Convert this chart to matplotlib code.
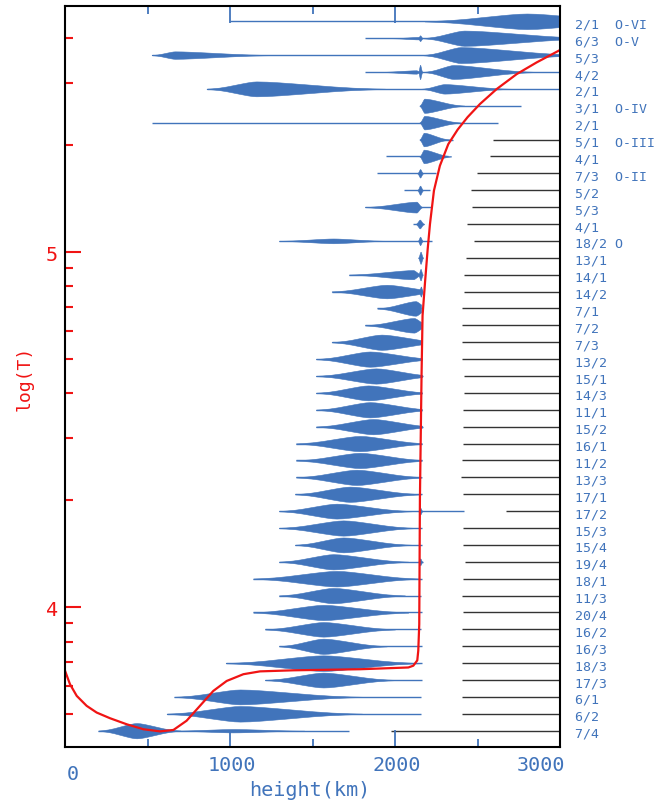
import numpy as np
import matplotlib
matplotlib.use("Agg")
import matplotlib.pyplot as plt

plt.rcParams['font.family'] = ['DejaVu Sans Mono']

BLUE = '#4174bb'
RED = '#f01414'

# line labels, top row first
trans = ['2/1', '6/3', '5/3', '4/2', '2/1', '3/1', '2/1', '5/1', '4/1', '7/3',
         '5/2', '5/3', '4/1', '18/2', '13/1', '14/1', '14/2', '7/1', '7/2', '7/3',
         '13/2', '15/1', '14/3', '11/1', '15/2', '16/1', '11/2', '13/3', '17/1', '17/2',
         '15/3', '15/4', '19/4', '18/1', '11/3', '20/4', '16/2', '16/3', '18/3', '17/3',
         '6/1', '6/2', '7/4']
ions = ['O-VI', 'O-V', '', '', '', 'O-IV', '', 'O-III', '', 'O-II',
        '', '', '', 'O', '', '', '', '', '', '',
        '', '', '', '', '', '', '', '', '', '',
        '', '', '', '', '', '', '', '', '', '',
        '', '', '']

# thin line under each contribution function (km)
wing_start = [1000, 1818, 525, 1818, 858, 2150, 525, 2150, 1945, 1893,
              2054, 1818, 2111, 1297, 2145, 1721, 1616, 1893, 1818, 1616,
              1521, 1521, 1521, 1521, 1521, 1400, 1400, 1400, 1394, 1297,
              1297, 1394, 1297, 1141, 1297, 1141, 1212, 1297, 974, 1212,
              663, 616, 202]
wing_end = [3000, 3000, 3000, 3000, 3000, 2763, 2626, 2353, 2323, 2246,
            2212, 2226, 2177, 2226, 2165, 2165, 2165, 2158, 2158, 2162,
            2162, 2168, 2165, 2165, 2168, 2165, 2162, 2160, 2165, 2420,
            2165, 2165, 2170, 2165, 2160, 2165, 2160, 2162, 2165, 2162,
            2155, 2155, 1723]

# black reference lines on the right (rows 7..42)
black_rows = list(range(7, 43))
black_start = [2596, 2575, 2495, 2460, 2466, 2434, 2481, 2430, 2420, 2420,
               2408, 2408, 2404, 2404, 2416, 2416, 2410, 2410, 2410, 2408,
               2400, 2410, 2670, 2410, 2410, 2424, 2410, 2406, 2410, 2408,
               2408, 2408, 2408, 2406, 2406, 1976]

# blobs: row, left tip, peak, right tip, half height (rows), cut-off (km)
blob_row = [0, 1, 1, 1, 2, 2, 3, 3, 3, 4, 4, 5, 6, 7, 8, 9, 10, 11, 12, 13, 13,
            14, 15, 15, 16, 16, 17, 18, 19, 20, 21, 22, 23, 24, 25, 26, 27, 28,
            29, 29, 30, 31, 32, 32, 33, 34, 35, 36, 37, 38, 39, 40, 41, 42, 42]
blob_left = [2180, 1980, 2138, 2170, 525, 2170, 1900, 2140, 2175, 858, 2160, 2148, 2148,
             2148, 2148, 2135, 2135, 1818, 2125, 1297, 2138,
             2140, 1721, 2140, 1616, 2145, 1893, 1818, 1616, 1521, 1521, 1521, 1521, 1521,
             1400, 1400, 1400, 1394, 1297, 2140, 1297, 1394, 1297, 2140, 1141, 1297, 1141,
             1212, 1297, 974, 1212, 663, 616, 202, 650]
blob_peak = [2800, 2140, 2152, 2420, 667, 2400, 2130, 2152, 2355, 1160, 2300, 2178, 2178,
             2175, 2175, 2152, 2152, 2130, 2150, 1626, 2152,
             2155, 2110, 2155, 1950, 2157, 2125, 2115, 1919, 1848, 1885, 1838, 1848, 1868,
             1788, 1788, 1767, 1727, 1646, 2153, 1687, 1687, 1626, 2153, 1646, 1626, 1566,
             1566, 1566, 1566, 1566, 1061, 1061, 434, 1020]
blob_right = [3500, 2160, 2168, 3220, 1260, 3150, 2150, 2165, 2850, 1940, 2700, 2420, 2400,
              2330, 2340, 2170, 2170, 2165, 2175, 1950, 2168,
              2170, 2160, 2168, 2300, 2168, 2200, 2200, 2300, 2250, 2250, 2220, 2230, 2240,
              2200, 2200, 2180, 2160, 2100, 2166, 2120, 2100, 2080, 2166, 2150, 2060, 2080,
              2000, 1950, 2150, 2000, 1800, 1800, 700, 1450]
blob_half = [0.46, 0.07, 0.17, 0.45, 0.22, 0.47, 0.10, 0.42, 0.41, 0.44, 0.28, 0.42, 0.40,
             0.40, 0.40, 0.25, 0.27, 0.32, 0.26, 0.14, 0.25,
             0.36, 0.27, 0.34, 0.40, 0.30, 0.43, 0.43, 0.45, 0.45, 0.45, 0.44, 0.45, 0.45,
             0.45, 0.45, 0.45, 0.45, 0.44, 0.20, 0.45, 0.44, 0.45, 0.20, 0.46, 0.45, 0.45,
             0.43, 0.45, 0.46, 0.44, 0.44, 0.46, 0.45, 0.10]
blob_cut = [3500, 2160, 2168, 3220, 1260, 3150, 2150, 2165, 2850, 1940, 2700, 2420, 2400,
            2330, 2340, 2170, 2170, 2165, 2175, 1950, 2168,
            2170, 2160, 2168, 2162, 2168, 2158, 2158, 2162, 2162, 2164, 2162, 2162, 2164,
            2162, 2162, 2162, 2160, 2100, 2166, 2120, 2100, 2080, 2166, 2150, 2060, 2080,
            2000, 1950, 2150, 2000, 1800, 1800, 700, 1450]

# temperature structure
temp_height = [0, 30, 71, 131, 192, 273, 374, 475, 576, 657, 737, 818, 899, 980,
               1081, 1182, 1384, 1788, 2081, 2111, 2135, 2141, 2147, 2151, 2161,
               2167, 2182, 2198, 2212, 2236, 2272, 2323, 2380, 2440, 2515, 2616,
               2737, 2858, 3000]
temp_logT = [3.821, 3.783, 3.750, 3.722, 3.703, 3.687, 3.670, 3.656, 3.650, 3.654,
             3.680, 3.722, 3.764, 3.792, 3.811, 3.819, 3.822, 3.825, 3.830, 3.835,
             3.850, 3.877, 3.952, 4.304, 4.656, 4.821, 4.915, 5.008, 5.079, 5.173,
             5.243, 5.304, 5.345, 5.380, 5.417, 5.459, 5.501, 5.534, 5.569]

# spindle outline, tip -> peak
shape_t = np.array([0, .1, .25, .4, .55, .7, .82, .92, 1.])
shape_h = np.array([.02, .06, .16, .32, .52, .72, .87, .97, 1.])


def outline(left, peak, right, half, cut):
    xs = np.concatenate([left + (peak - left) * shape_t,
                         peak + (right - peak) * (1 - shape_t[::-1])[1:]])
    hs = np.concatenate([shape_h, shape_h[::-1][1:]]) * half
    if cut < right:
        h_cut = np.interp(cut, xs, hs)
        keep = xs < cut
        xs = np.append(xs[keep], cut)
        hs = np.append(hs[keep], h_cut)
    return xs, hs


fig = plt.figure(figsize=(6.7, 8.04), dpi=100)
ax = fig.add_axes([65 / 670, 1 - 748 / 804, 495 / 670, 741 / 804])
axr = ax.twinx()
ax.set_zorder(axr.get_zorder() + 1)
ax.patch.set_visible(False)

rows = np.arange(len(trans))
axr.hlines(rows, wing_start, wing_end, color=BLUE, lw=1.0)
axr.hlines(black_rows, black_start, 3000, color='#333333', lw=1.0)
for r, l, p, rt, h, c in zip(blob_row, blob_left, blob_peak, blob_right, blob_half, blob_cut):
    xs, hs = outline(l, p, rt, h, c)
    axr.fill_between(xs, r - hs, r + hs, color=BLUE, lw=0.4)

for i, (t, ion) in enumerate(zip(trans, ions)):
    axr.text(1.030, i + 0.15, f"{t:<5}{ion}", transform=axr.get_yaxis_transform(),
             ha='left', va='center', color=BLUE, fontsize=9.5, clip_on=False)

axr.set_ylim(42.965, -0.906)
axr.set_yticks([])
for s in axr.spines.values():
    s.set_visible(False)

ax.plot(temp_height, temp_logT, color=RED, lw=1.6, solid_joinstyle='round')

ax.set_xlim(0, 3000)
ax.set_ylim(3.606, 5.693)
ax.set_xticks([1000, 2000])
ax.set_xticks([500, 1500, 2500], minor=True)
ax.tick_params(axis='x', which='both', direction='in', top=True, bottom=True,
               colors=BLUE, labelbottom=False, width=1.3)
ax.tick_params(axis='x', which='major', length=12)
ax.tick_params(axis='x', which='minor', length=6)

ax.set_yticks([4, 5])
ax.set_yticklabels(['4', '5'])
minor_T = [5e3, 6e3, 7e3, 8e3, 9e3, 2e4, 3e4, 4e4, 5e4, 6e4, 7e4, 8e4, 9e4, 2e5, 3e5, 4e5]
ax.set_yticks(np.log10(minor_T), minor=True)
ax.tick_params(axis='y', which='both', direction='in', left=True, right=False,
               colors=RED, width=1.5, labelsize=14.5, pad=5)
ax.tick_params(axis='y', which='major', length=11.5)
ax.tick_params(axis='y', which='minor', length=6)

for s in ax.spines.values():
    s.set_color('black')
    s.set_linewidth(1.5)

for v, lab in zip([0, 1000, 2000, 3000], ['0', '1000', '2000', '3000']):
    ha = 'left' if v == 0 else ('right' if v == 3000 else 'center')
    dy = -27 if v == 0 else -18
    dx = 5 if v == 3000 else 2
    ax.annotate(lab, (v, 0), xycoords=('data', 'axes fraction'),
                xytext=(dx * 0.72, dy * 0.72), textcoords='offset points',
                ha=ha, va='center', color=BLUE, fontsize=14.5)

ax.set_xlabel('height(km)', color=BLUE, fontsize=14.5)
ax.xaxis.set_label_coords(0.495, -0.058)
ax.xaxis.label.set_va('center')
ax.set_ylabel('log(T)', color=RED, fontsize=13)
ax.yaxis.set_label_coords(-0.081, 0.499)
ax.yaxis.label.set_va('center')

fig.savefig('out.png', dpi=100)
